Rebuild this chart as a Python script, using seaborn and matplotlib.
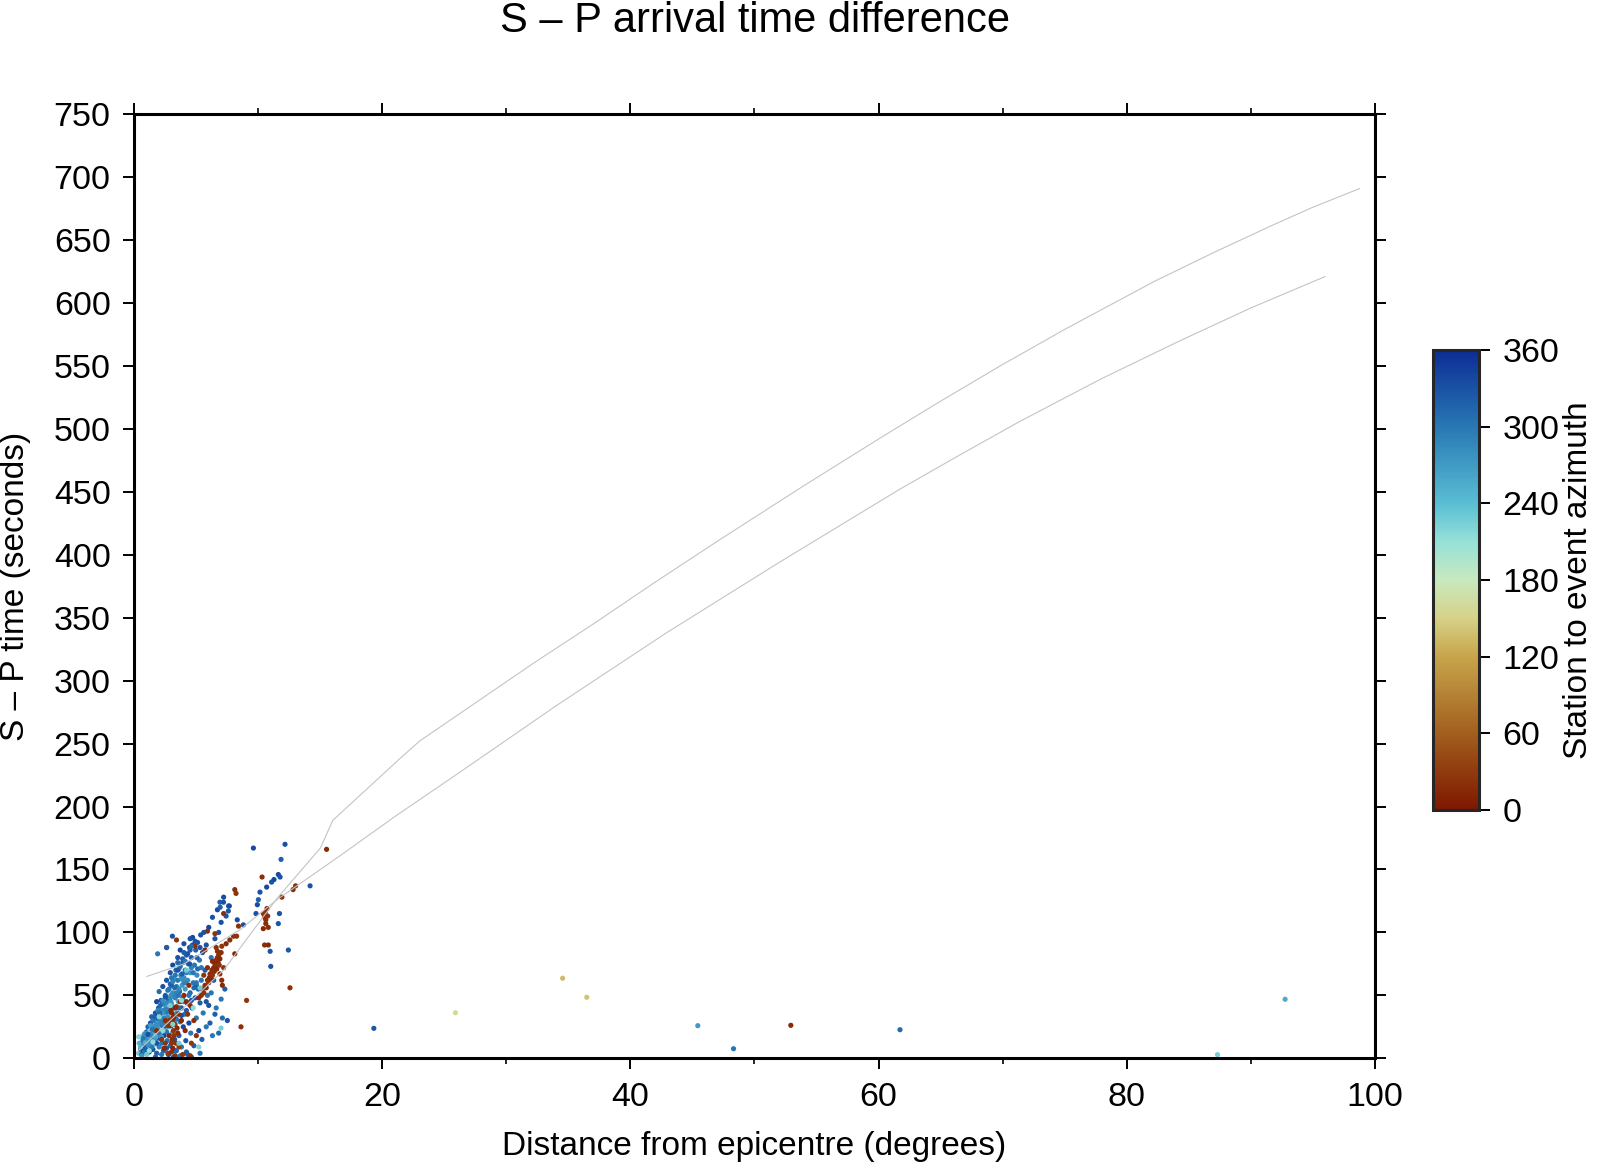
import numpy as np
import pandas as pd
import matplotlib
matplotlib.use('Agg')
import matplotlib.pyplot as plt
import seaborn as sns
from matplotlib.colors import LinearSegmentedColormap, Normalize
from matplotlib.cm import ScalarMappable
from matplotlib.ticker import MultipleLocator

# Reference S-P curves (surface focus and deep focus)
surf_dist = [0.0, 3.0, 7.2, 11.5, 15.0, 16.0, 21.4, 23.0, 27.3, 32.2, 37.0, 41.8, 47.2,
             54.0, 60.5, 65.0, 69.8, 75.0, 82.2, 87.0, 91.8, 95.0, 98.8]
surf_sp = [3, 31, 70, 127, 167, 189, 238, 252, 281, 314, 345, 377, 412,
           455, 495, 522, 550, 579, 617, 640, 662, 676, 691]
deep_dist = [1.0, 4.0, 8.5, 11.5, 16.6, 21.0, 26.5, 34.0, 42.9, 52.0, 61.7, 66.5, 71.4,
             78.0, 84.3, 90.0, 96.0]
deep_sp = [65, 75, 102, 126, 161, 192, 229, 280, 338, 394, 452, 479, 506,
           540, 570, 596, 621]

# Observations: blue core of the cluster
core_dist = [0.35, 0.4, 0.5, 0.55, 0.6, 0.65, 0.7, 0.75, 0.8, 0.85, 0.9, 0.95, 1.0, 1.0,
             1.05, 1.1, 1.1, 1.15, 1.2, 1.2, 1.25, 1.3, 1.3, 1.35, 1.4, 1.4, 1.45, 1.5, 1.5,
             1.55, 1.6, 1.6,
             1.65, 1.7, 1.7, 1.75, 1.8, 1.8, 1.85, 1.9, 1.9, 1.95, 2.0, 2.0, 2.0, 2.05, 2.1,
             2.1, 2.15, 2.2, 2.2,
             2.25, 2.3, 2.3, 2.35, 2.4, 2.4, 2.45, 2.5, 2.5, 2.55, 2.6, 2.6, 2.65, 2.7, 2.7,
             2.75, 2.8, 2.8,
             2.85, 2.9, 2.9, 2.95, 3.0, 3.0, 3.05, 3.1, 3.1, 3.15, 3.2, 3.2, 3.25, 3.3, 3.3,
             3.35, 3.4, 3.4,
             3.45, 3.5, 3.5, 3.55, 3.6, 3.6, 3.65, 3.7, 3.7, 3.75, 3.8, 3.8, 3.85, 3.9, 3.9,
             3.95, 4.0, 4.0,
             4.05, 4.1, 4.1, 4.15, 4.2, 4.25, 4.3, 4.3, 4.35, 4.4, 4.45, 4.5, 4.5, 4.55, 4.6,
             4.65, 4.7, 4.75, 4.8,
             4.85, 4.9, 4.95, 5.0, 5.05, 5.1, 5.15, 5.2, 5.25, 5.3, 5.35, 5.4, 5.45, 5.5, 5.55,
             5.7, 5.8, 5.9, 6.0, 6.1, 6.2, 6.3, 6.4, 6.5, 6.6, 6.7, 6.8, 6.9, 7.0, 7.1, 7.2,
             7.4, 7.6, 6.3,
             1.3, 1.9, 2.4, 2.7, 3.0, 3.3, 3.6, 4.0, 2.2, 2.6, 3.4, 3.8, 4.2, 4.6, 1.6, 2.9,
             6.0, 6.5, 7.0, 7.5, 6.8, 5.8, 7.3, 6.2]
core_sp = [4, 12, 7, 17, 3, 10, 14, 6, 19, 9, 13, 4, 16, 21,
           8, 12, 25, 18, 5, 15, 22, 10, 28, 17, 13, 33, 20, 7, 25,
           16, 30, 11,
           22, 36, 14, 27, 4, 45, 19, 31, 24, 40, 9, 16, 53, 28, 35,
           21, 46, 12, 38,
           26, 31, 57, 6, 43, 18, 36, 50, 23, 29, 62, 40, 14, 33, 47,
           3, 55, 25,
           38, 68, 10, 45, 30, 58, 20, 52, 74, 1, 40, 63, 15, 48, 27,
           70, 57, 6,
           36, 80, 62, 45, 18, 71, 53, 29, 86, 66, 40, 9, 58, 76, 48,
           25, 64, 91,
           35, 70, 55, 14, 82, 44, 62, 3, 75, 28, 88, 52, 68, 20, 80,
           40, 96, 60, 10,
           74, 48, 86, 32, 66, 92, 55, 22, 78, 44, 98, 62, 15, 84, 36,
           70, 90, 50, 104, 28, 80, 112, 62, 95, 40, 118, 100, 124, 108, 32, 128,
           113, 121, 18,
           19, 27, 32, 38, 43, 50, 55, 60, 29, 44, 52, 63, 68, 72, 24, 48,
           42, 35, 47, 30, 20, 25, 55, 52]
core_az = [230, 250, 300, 225, 330, 280, 300, 340, 270, 320, 250, 300, 280, 330,
           300, 260, 320, 290, 340, 270, 230, 300, 330, 260, 290, 320, 250, 330, 280,
           300, 270, 230,
           300, 330, 260, 280, 320, 340, 240, 300, 270, 320, 290, 330, 310, 260, 300,
           230, 330, 300, 280,
           300, 260, 330, 320, 290, 340, 270, 310, 230, 300, 330, 260, 300, 280, 320,
           340, 300, 250,
           290, 330, 310, 270, 300, 320, 260, 280, 340, 320, 300, 270, 330, 290, 250,
           310, 300, 300,
           280, 330, 300, 260, 320, 280, 310, 300, 340, 290, 330, 300, 270, 320, 300,
           340, 280, 330,
           300, 310, 270, 330, 320, 300, 280, 320, 300, 340, 330, 310, 270, 300, 320,
           330, 340, 300, 320,
           300, 330, 320, 300, 280, 330, 310, 340, 300, 320, 330, 300, 320, 330, 300,
           320, 330, 300, 340, 320, 300, 330, 320, 330, 300, 335, 330, 320, 330, 310, 335,
           325, 330, 300,
           285, 280, 290, 285, 280, 290, 285, 290, 290, 285, 290, 280, 285, 290, 280, 285,
           330, 320, 300, 330, 310, 300, 320, 300]

# Observations: second pass through the densest part of the cluster
dense_dist = [0.5, 0.7, 0.9, 1.1, 1.3, 1.5, 1.7, 1.9, 2.1, 2.3, 2.5, 2.7, 2.9, 3.1, 3.3,
              3.5, 3.7, 3.9, 4.1, 4.3, 4.5, 4.7, 4.9, 5.1, 5.3,
              0.6, 0.8, 1.0, 1.2, 1.4, 1.6, 1.8, 2.0, 2.2, 2.4, 2.6, 2.8, 3.0, 3.2, 3.4,
              3.6, 3.8, 4.0, 4.2, 4.4, 4.6, 4.8, 5.0, 5.4, 5.8,
              1.15, 1.45, 1.75, 2.05, 2.35, 2.65, 2.95, 3.25, 3.55, 3.85, 4.15, 4.45, 4.75,
              5.05, 2.5, 3.0, 3.5, 4.0, 4.5, 5.0,
              1.7, 2.2, 2.6, 3.3, 3.7, 4.2, 4.6, 5.3]
dense_sp = [9, 16, 20, 19, 26, 30, 33, 38, 42, 46, 49, 54, 59, 61, 66,
            70, 73, 79, 77, 83, 86, 90, 93, 71, 88,
            2, 5, 7, 10, 9, 14, 12, 20, 17, 25, 21, 30, 26, 35, 31,
            40, 34, 45, 38, 50, 46, 56, 58, 72, 45,
            11, 23, 17, 36, 27, 37, 50, 56, 50, 67, 60, 75, 68,
            80, 39, 64, 76, 84, 95, 60,
            1, 3, 8, 6, 2, 5, 1, 4]
dense_az = [250, 300, 280, 330, 270, 300, 320, 290, 310, 280, 330, 300, 320, 290, 300,
            330, 310, 320, 300, 330, 320, 340, 330, 310, 330,
            270, 300, 320, 260, 300, 280, 330, 300, 270, 310, 300, 290, 320, 280, 300,
            310, 330, 290, 320, 300, 330, 310, 320, 300, 330,
            280, 300, 260, 310, 290, 300, 280, 310, 300, 320, 290, 330, 300,
            320, 290, 300, 310, 320, 330, 300,
            320, 300, 330, 310, 300, 320, 330, 300]

# Observations: brown (north-ish azimuth) group
brown_dist = [1.8, 2.2, 2.4, 2.5, 2.7, 2.8, 2.9, 3.0, 3.0, 3.1, 3.1, 3.15, 3.2, 3.3,
              3.4, 3.5, 3.6, 3.7, 3.8, 3.9, 4.0, 4.1, 4.3, 4.4, 4.6, 4.8, 5.0,
              5.2, 5.4, 5.5, 5.6, 5.7, 5.8, 5.9, 6.0, 6.05, 6.1, 6.2, 6.25, 6.3, 6.4, 6.45,
              6.5, 6.55, 6.6, 6.65, 6.7, 6.75, 6.8, 6.85, 6.9, 7.0, 7.05, 7.1, 6.9, 7.2, 6.6,
              2.6, 3.4, 4.9, 5.7, 5.9, 6.5, 7.7, 7.4, 8.0, 8.25, 8.4, 8.1, 7.2, 8.1, 8.2,
              10.3, 10.5, 10.6, 10.55, 10.4, 10.75, 10.4, 10.8, 10.5, 10.8, 10.6, 10.7,
              11.9, 12.8, 13.0, 15.5, 12.55, 9.05, 8.6, 4.5,
              3.05, 3.1, 3.2, 3.25, 2.95, 3.35, 2.85, 3.3, 3.0, 2.5, 2.7, 3.45, 3.55, 4.2,
              4.5, 5.6, 5.9, 6.3, 6.7, 7.05]
brown_sp = [22, 15, 8, 30, 4, 18, 26, 12, 36, 29, 8, 22, 33, 2,
            41, 20, 9, 45, 30, 3, 50, 22, 35, 58, 12, 30, 18,
            48, 50, 55, 52, 58, 56, 62, 60, 64, 67, 63, 70, 66, 72, 69,
            75, 73, 78, 71, 80, 76, 82, 74, 79, 84, 62, 58, 67, 72, 88,
            88, 94, 89, 86, 101, 99, 94, 91, 97, 97, 105, 83, 115, 134, 131,
            144, 112, 110, 116, 115, 113, 103, 104, 90, 90, 107, 119,
            128, 134, 137, 166, 56, 46, 25, 2,
            15, 32, 18, 27, 38, 12, 30, 40, 5, 12, 26, 24, 35, 45,
            42, 66, 72, 77, 85, 89]
brown_az = [20, 25, 15, 20, 30, 15, 20, 25, 15, 20, 10, 25, 15, 20,
            25, 15, 30, 20, 15, 25, 20, 15, 25, 20, 30, 20, 25,
            15, 20, 15, 25, 20, 15, 20, 25, 15, 20, 15, 20, 25, 15, 20,
            15, 20, 25, 15, 20, 15, 20, 25, 15, 20, 20, 15, 20, 25, 20,
            20, 25, 20, 15, 20, 25, 20, 15, 20, 25, 20, 15, 20, 20, 25,
            20, 15, 20, 15, 25, 20, 15, 20, 20, 15, 20, 15,
            25, 20, 25, 15, 20, 25, 20, 25,
            20, 15, 25, 20, 15, 20, 25, 15, 20, 25, 20, 15, 20, 15,
            20, 25, 20, 15, 20, 25]

# Observations: pale cyan points
cyan_dist = [0.35, 1.2, 2.3, 3.1, 5.2, 6.99, 3.8, 5.3, 2.0, 2.9, 4.2, 1.5, 1.0, 3.6, 4.75]
cyan_sp = [17, 6, 22, 27, 9, 24, 46, 56, 33, 42, 70, 13, 3, 12, 40]
cyan_az = [220, 210, 215, 220, 220, 225, 215, 230, 220, 225, 230, 215, 230, 225, 215]

# Observations: scattered blue points above the cluster
upper_dist = [9.6, 12.15, 11.83, 11.61, 11.75, 11.26, 11.07, 10.67, 10.13, 10.0, 9.92, 9.81,
              11.61, 10.95, 11.0, 12.42, 14.17, 11.7, 7.19, 6.92, 7.66, 7.58, 8.79,
              3.07, 1.88, 2.61, 4.6, 5.6, 8.3]
upper_sp = [167, 170, 158, 146, 144, 142, 140, 136, 132, 126, 122, 115,
            107, 85, 73, 86, 137, 115, 124, 120, 121, 117, 106,
            97, 83, 88, 89, 100, 110]
upper_az = [335, 330, 320, 335, 330, 340, 330, 335, 330, 320, 335, 330,
            325, 330, 330, 325, 330, 330, 330, 320, 335, 325, 330,
            330, 300, 320, 310, 330, 335]

# Observations: isolated far-distance points
far_dist = [19.31, 25.89, 34.53, 36.48, 45.43, 48.31, 52.93, 61.73, 87.33, 92.78]
far_sp = [23.8, 36.2, 63.6, 48.5, 25.9, 7.6, 26.2, 22.7, 2.9, 46.9]
far_az = [325, 160, 135, 140, 270, 300, 15, 310, 225, 255]

df = pd.DataFrame({
    'dist': core_dist + dense_dist + brown_dist + cyan_dist + upper_dist + far_dist,
    'sp': core_sp + dense_sp + brown_sp + cyan_sp + upper_sp + far_sp,
    'az': core_az + dense_az + brown_az + cyan_az + upper_az + far_az,
})

# roma-like colormap (brown -> yellow -> pale -> cyan -> blue)
roma_nodes = [(0.0, (126, 23, 0)), (1 / 6, (163, 95, 30)), (1 / 3, (199, 165, 75)),
              (5 / 12, (214, 210, 135)), (0.5, (200, 233, 190)), (7 / 12, (150, 225, 215)),
              (2 / 3, (90, 190, 212)), (5 / 6, (40, 120, 180)), (1.0, (12, 45, 150))]
cmap = LinearSegmentedColormap.from_list(
    'roma', [(p, tuple(c / 255 for c in rgb)) for p, rgb in roma_nodes])

sns.set_style('ticks')
plt.rcParams['font.family'] = ['Liberation Sans', 'DejaVu Sans']
plt.rcParams['text.color'] = 'black'
plt.rcParams['axes.labelcolor'] = 'black'

fig = plt.figure(figsize=(15.99, 11.69), dpi=100)
ax = fig.add_axes([0.084, 0.0947, 0.7757, 0.8076])

sns.scatterplot(data=df, x='dist', y='sp', hue='az', palette=cmap, hue_norm=(0, 360),
                s=14, linewidth=0, legend=False, ax=ax)
sns.lineplot(x=surf_dist, y=surf_sp, sort=False, color='#c4c4c4', linewidth=0.8, ax=ax)
sns.lineplot(x=deep_dist, y=deep_sp, sort=False, color='#c4c4c4', linewidth=0.8, ax=ax)

ax.set_xlim(0, 100)
ax.set_ylim(0, 750)
ax.xaxis.set_major_locator(MultipleLocator(20))
ax.xaxis.set_minor_locator(MultipleLocator(10))
ax.yaxis.set_major_locator(MultipleLocator(50))
for s in ax.spines.values():
    s.set_linewidth(2.2)
    s.set_color('black')
ax.tick_params(which='major', direction='out', length=8, width=1.4, labelsize=24.5,
               pad=9, top=True, right=True, colors='black')
ax.tick_params(which='minor', direction='out', length=4, width=1.4, top=True, right=False)
ax.tick_params(axis='y', which='minor', left=False, right=False)

ax.set_xlabel('Distance from epicentre (degrees)', fontsize=24)
ax.set_ylabel('S \u2013 P time (seconds)', fontsize=24)
ax.xaxis.set_label_coords(0.5, -0.077)
ax.yaxis.set_label_coords(-0.083, 0.5)
fig.text(0.4719, 0.9725, 'S \u2013 P arrival time difference', fontsize=30,
         ha='center', va='baseline', color='black')

# Colour bar
cax = fig.add_axes([0.8962, 0.3071, 0.0288, 0.3935])
cb = fig.colorbar(ScalarMappable(norm=Normalize(0, 360), cmap=cmap), cax=cax,
                  ticks=range(0, 361, 60))
cb.outline.set_linewidth(2.2)
cax.tick_params(direction='out', length=8, width=1.4, labelsize=24.5, pad=9, colors='black')
cb.set_label('Station to event azimuth', fontsize=24)
cax.yaxis.set_label_coords(2.82, 0.5)

fig.savefig('out.png', dpi=100)
